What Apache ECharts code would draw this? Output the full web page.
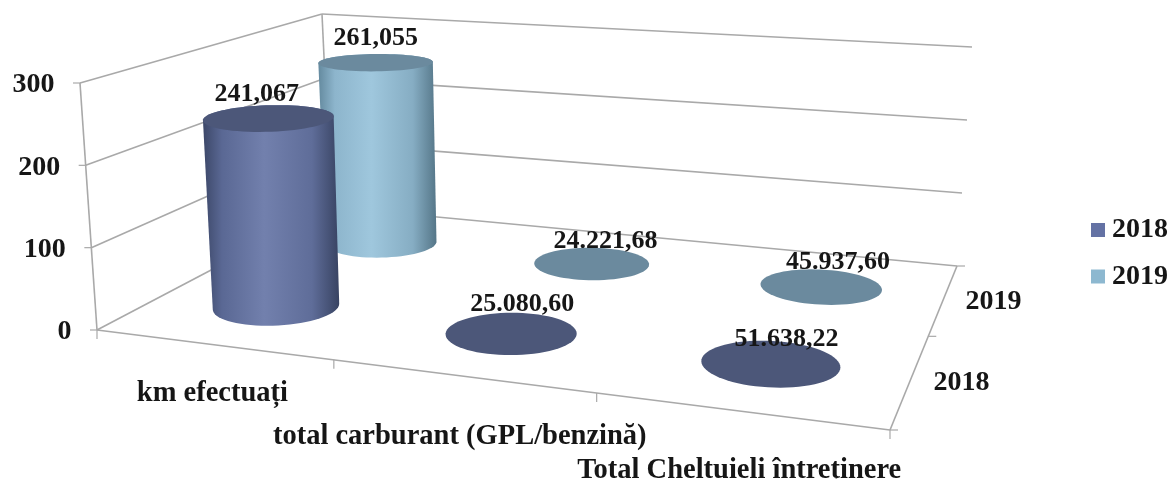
<!DOCTYPE html>
<html>
<head>
<meta charset="utf-8">
<style>html,body{margin:0;padding:0;background:#fff}#c{width:1170px;height:479px;filter:blur(0.6px)}</style>
<script src="https://cdn.jsdelivr.net/npm/echarts@6/dist/echarts.min.js"></script>
</head>
<body>
<div id="c"></div>
<script>
// ---- data ----
const categories = ['km efectuați', 'total carburant (GPL/benzină)', 'Total Cheltuieli întreținere'];
const seriesNames = ['2018', '2019'];
const values2018 = [241.067, 25080.60, 51638.22];
const values2019 = [261.055, 24221.68, 45937.60];
const labels2018 = ['241,067', '25.080,60', '51.638,22'];
const labels2019 = ['261,055', '24.221,68', '45.937,60'];
const yTicks = [0, 100, 200, 300];
const yMax = 300;

// ---- perspective box (styling of the pseudo-3D frame) ----
const FL = [97, 330], FR = [890, 430], BR = [957, 266], BL = [331, 207];
const UP_FL = [-17, -247], UP_FR = [17, -280], UP_BR = [15, -219], UP_BL = [-9, -193];
const H = (function () {
  const [x0, y0] = FL, [x1, y1] = FR, [x2, y2] = BR, [x3, y3] = BL;
  const dx1 = x1 - x2, dx2 = x3 - x2, sx = x0 - x1 + x2 - x3;
  const dy1 = y1 - y2, dy2 = y3 - y2, sy = y0 - y1 + y2 - y3;
  const den = dx1 * dy2 - dx2 * dy1;
  const g = (sx * dy2 - dx2 * sy) / den, h = (dx1 * sy - sx * dy1) / den;
  return { a: x1 - x0 + g * x1, b: x3 - x0 + h * x3, c: x0, d: y1 - y0 + g * y1, e: y3 - y0 + h * y3, f: y0, g, h };
})();
function project(u, v, t) {
  const w = H.g * u + H.h * v + 1;
  const x = (H.a * u + H.b * v + H.c) / w, y = (H.d * u + H.e * v + H.f) / w;
  const mix = i => (1 - u) * (1 - v) * UP_FL[i] + u * (1 - v) * UP_FR[i] + u * v * UP_BR[i] + (1 - u) * v * UP_BL[i];
  return [x + mix(0) * t, y + mix(1) * t];
}
function hull(pts) {
  const p = pts.slice().sort((a, b) => a[0] - b[0] || a[1] - b[1]);
  const cross = (o, a, b) => (a[0] - o[0]) * (b[1] - o[1]) - (a[1] - o[1]) * (b[0] - o[0]);
  const lo = [], up = [];
  for (const q of p) { while (lo.length > 1 && cross(lo[lo.length - 2], lo[lo.length - 1], q) <= 0) lo.pop(); lo.push(q); }
  for (const q of p.reverse()) { while (up.length > 1 && cross(up[up.length - 2], up[up.length - 1], q) <= 0) up.pop(); up.push(q); }
  return lo.slice(0, -1).concat(up.slice(0, -1));
}
const GREY = '#a9a9a9';
const SERIF = '"Liberation Serif","Times New Roman",serif';
const fontOf = s => 'bold ' + s + 'px ' + SERIF;
const RU = 0.083, RV = 0.125;
const HEIGHT_FIT = 0.98;
const looks = {
  '2018': { swatch: '#6472a4', top: '#4c5779', stops: ['#3c4768', '#5a6894', '#7280ad', '#5f6d99', '#384362'] },
  '2019': { swatch: '#8db8d0', top: '#6b8a9e', stops: ['#648a9f', '#8db5cc', '#9fc7dd', '#86adc3', '#557688'] }
};
const labelNudge = { '2018': [[-12, -24], [11, -29], [16, -24]], '2019': [[0, -24], [14, -22], [17, -24]] };
const catNudge = [[0, 49], [-2, 61], [0, 60]];

function line(a, b, w) {
  return { type: 'line', shape: { x1: a[0], y1: a[1], x2: b[0], y2: b[1] }, style: { stroke: GREY, lineWidth: w || 1.6 } };
}
function text(x, y, str, size, align) {
  return { type: 'text', z2: 50, style: { x, y, text: str, font: fontOf(size), fill: '#161616', align: align || 'center', verticalAlign: 'middle' } };
}

// frame: one datum per y tick, floor and category/depth axis drawn with the first tick
function renderFrame(params, api) {
  const area = params.coordSys;
  const tickVal = api.value(0);
  const t = (area.y + area.height - api.coord([0, tickVal])[1]) / area.height;
  const kids = [];
  const a = project(0, 0, t), b = project(0, 1, t), c = project(1, 1, t);
  kids.push(line(a, b), line(b, c));
  kids.push(line(a, [a[0] - 7, a[1]], 1.2));
  kids.push(text(a[0] - 25.5, a[1] + 2, String(yTicks[params.dataIndex]), 28, 'right'));
  if (params.dataIndex === 0) {
    const fr = project(1, 0, 0), top = project(0, 0, 1), backTop = project(0, 1, 1);
    kids.push(line(a, fr), line(fr, c), line(a, top), line(b, backTop));
    [0, 1, 2, 3].forEach(i => {
      const p = project(i / 3, 0, 0);
      kids.push(line(p, [p[0], p[1] + 9], 1.2));
    });
    categories.forEach((name, i) => {
      const p = project((i + 0.5) / 3, 0, 0);
      kids.push(text(p[0] + catNudge[i][0], p[1] + catNudge[i][1], name, 28.5));
    });
    [0, 0.5, 1].forEach(v => {
      const p = project(1, v, 0);
      kids.push(line(p, [p[0] + 8, p[1]], 1.2));
    });
    seriesNames.forEach((name, s) => {
      const p = project(1, (s + 0.5) / 2, 0);
      kids.push(text(p[0] + 51 - s, p[1] + 3, name, 28));
    });
  }
  return { type: 'group', children: kids };
}

function cylinderRenderer(seriesIdx, labels) {
  const name = seriesNames[seriesIdx];
  const look = looks[name];
  return function (params, api) {
    const area = params.coordSys;
    const raw = api.value(1);
    const plotted = raw <= yMax ? raw : 0;   // off-scale values collapse to a flat disc, as in the source chart
    const base = api.coord([api.value(0), 0]);
    const head = api.coord([api.value(0), plotted]);
    const uc = (base[0] - area.x) / area.width;
    const vc = (seriesIdx + 0.5) / 2;
    const t = HEIGHT_FIT * (base[1] - head[1]) / area.height;
    const bottomPts = [], topPts = [];
    for (let k = 0; k < 72; k++) {
      const ang = k / 72 * Math.PI * 2;
      const u = uc + RU * Math.cos(ang), v = vc + RV * Math.sin(ang);
      bottomPts.push(project(u, v, 0));
      topPts.push(project(u, v, t));
    }
    const kids = [];
    if (t > 0) {
      const outline = hull(bottomPts.concat(topPts));
      const xs = outline.map(p => p[0]);
      const x0 = Math.min.apply(null, xs), x1 = Math.max.apply(null, xs);
      const offs = [0, 0.14, 0.45, 0.8, 1];
      kids.push({
        type: 'polygon', shape: { points: outline },
        style: { fill: { type: 'linear', x: x0, y: 0, x2: x1, y2: 0, global: true,
          colorStops: look.stops.map((color, i) => ({ offset: offs[i], color })) } }
      });
    }
    kids.push({ type: 'polygon', shape: { points: topPts }, style: { fill: look.top } });
    const anchor = project(uc, vc, t);
    const nudge = labelNudge[name][params.dataIndex];
    kids.push(text(anchor[0] + nudge[0], anchor[1] + nudge[1], labels[params.dataIndex], 26));
    return { type: 'group', children: kids };
  };
}

const chart = echarts.init(document.getElementById('c'), null, { renderer: 'canvas' });
chart.setOption({
  animation: false,
  backgroundColor: '#ffffff',
  grid: { left: 0, right: 0, top: 0, bottom: 0, containLabel: false },
  xAxis: { type: 'category', data: categories, show: false },
  yAxis: { type: 'value', min: 0, max: yMax, interval: 100, show: false },
  legend: {
    data: seriesNames, orient: 'vertical', left: 1091, top: 216, padding: 0,
    itemWidth: 14, itemHeight: 14, itemGap: 18.5, icon: 'rect', selectedMode: false,
    textStyle: { fontFamily: SERIF, fontWeight: 'bold', fontSize: 28, color: '#161616', padding: [6, 0, 0, 2] }
  },
  series: [
    { type: 'custom', silent: true, clip: false, renderItem: renderFrame, data: yTicks.map(v => [v]), encode: { y: 0 } },
    { type: 'custom', name: '2019', silent: true, clip: false, itemStyle: { color: looks['2019'].swatch },
      renderItem: cylinderRenderer(1, labels2019), data: values2019.map((v, i) => [i, v]), encode: { x: 0, y: 1 } },
    { type: 'custom', name: '2018', silent: true, clip: false, itemStyle: { color: looks['2018'].swatch },
      renderItem: cylinderRenderer(0, labels2018), data: values2018.map((v, i) => [i, v]), encode: { x: 0, y: 1 } }
  ]
});
</script>
</body>
</html>
